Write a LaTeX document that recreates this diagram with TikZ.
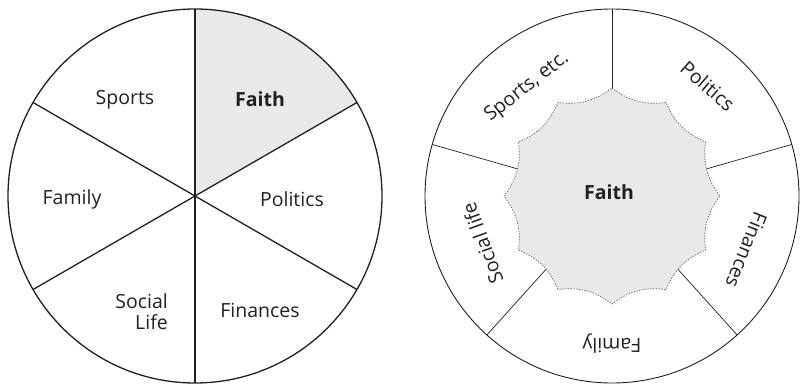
\documentclass[tikz,border=0pt]{standalone}
\usepackage{fontspec}
\setmainfont{Open Sans}
\definecolor{ink}{HTML}{231F20}
\definecolor{faithgray}{HTML}{E9E9EB}
\tikzset{
    rim/.style={draw=ink, line width=1.3pt}, % circle and spokes of the left wheel
    thinrim/.style={draw=ink, line width=0.9pt}, % circle of the right wheel
    spoke/.style={draw=ink, line width=0.7pt}, % spokes of the right wheel
    core/.style={draw=ink!70, fill=faithgray, line width=0.7pt, dash pattern=on 1.4pt off 1.4pt}, % scalloped centre
}

\begin{document}
\begin{tikzpicture}[
                        x=1pt, y=1pt,
                        sectortext/.style={text=ink, font=\fontsize{19.5}{21}\selectfont, inner sep=0pt},
                        boldtext/.style={sectortext, font=\fontsize{19.5}{21}\selectfont\bfseries},
                    ]
                    \useasboundingbox (0,0) rectangle (800,384);
                    \coordinate (L) at (195,188);
                    \coordinate (R) at (612,188);
                    % left wheel
                    \fill[faithgray] (L) -- ([shift={(30:187)}]L) arc[start angle=30, end angle=90, radius=187] -- cycle;
                    \draw[rim] (L) circle[radius=187];
                    \foreach \a in {30,90,...,330}
                        \draw[rim] (L) -- ([shift={(\a:187)}]L);
                    \node[sectortext] (sports) at ([shift={(-70,96)}]L) {Sports};
                    \node[boldtext] (faith) at ([shift={(65,97)}]L) {Faith};
                    \node[sectortext] (family) at ([shift={(-123,-3)}]L) {Family};
                    \node[sectortext] (politics) at ([shift={(97,-3)}]L) {Politics};
                    \node[sectortext, align=right, anchor=east] (social) at ([shift={(-27,-116)}]L) {Social\\Life};
                    \node[sectortext] (finances) at ([shift={(65,-114)}]L) {Finances};
                    % right wheel
                    \draw[thinrim] (R) circle[radius=187];
                    \foreach \a in {90,16,-48,-132,164}
                        \draw[spoke] ([shift={(\a:95)}]R) -- ([shift={(\a:187)}]R);
                    \draw[core] ([shift={(90:108)}]R)
                        \foreach \a in {60,30,...,-270} { to[bend right=22] ([shift={(\a:108)}]R) } -- cycle;
                    \node[boldtext] (faithcore) at ([shift={(-3,4)}]R) {Faith};
                    \node[sectortext, rotate=38] (sportsetc) at ([shift={(128:138)}]R) {Sports, etc.};
                    \node[sectortext, rotate=-41] (politicsR) at ([shift={(49:146)}]R) {Politics};
                    \node[sectortext, rotate=-112] (financesR) at ([shift={(-22:145)}]R) {Finances};
                    \node[sectortext, rotate=-180] (familyR) at ([shift={(-90:148)}]R) {Family};
                    \node[sectortext, rotate=110] (socialR) at ([shift={(-160:138)}]R) {Social life};
                \end{tikzpicture}
\end{document}
